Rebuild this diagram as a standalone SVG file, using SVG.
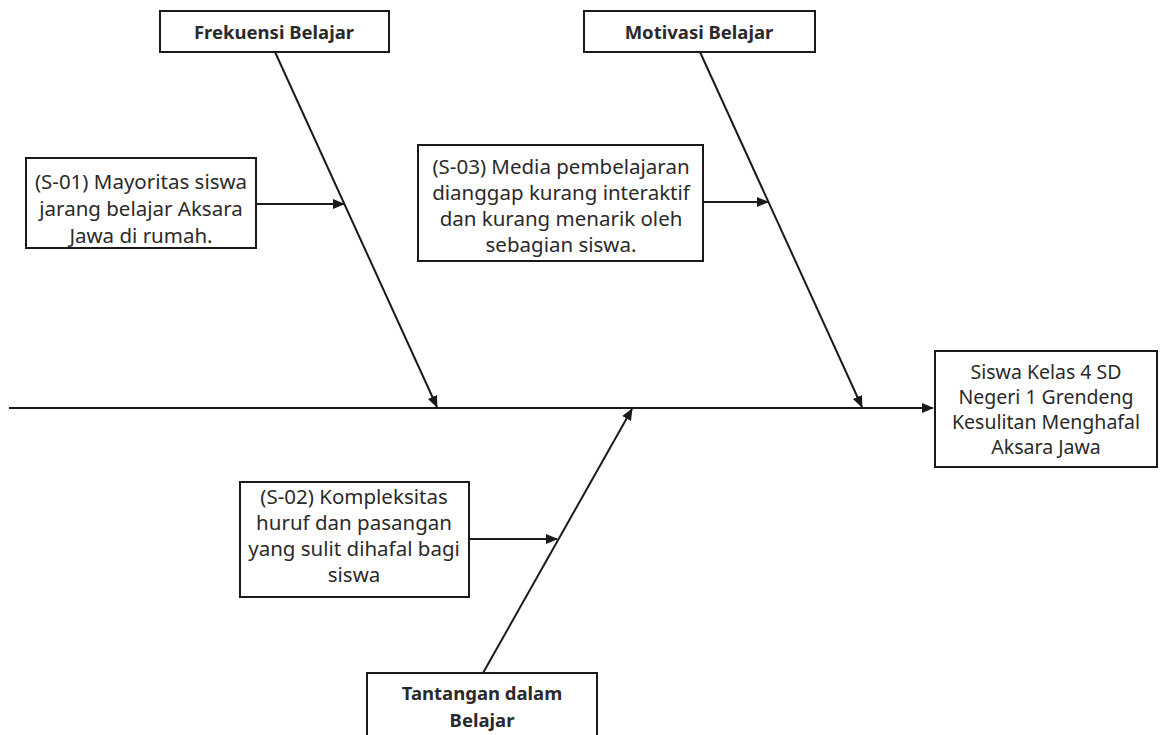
<svg xmlns="http://www.w3.org/2000/svg" width="1161" height="735" viewBox="0 0 1161 735">
<style>
.box{fill:#fff;stroke:#1a1a1a;stroke-width:2}
.t{font-family:"Noto Sans","Lato",sans-serif;font-size:20.5px;fill:#2a2a2a;text-anchor:middle}
.s{font-size:19.5px}
.b{font-weight:bold;font-size:18.5px}
.ln{stroke:#1a1a1a;stroke-width:2;fill:none}
</style>
<defs>
<marker id="ah" markerWidth="12" markerHeight="12" refX="11" refY="6" orient="auto" markerUnits="userSpaceOnUse">
<path d="M0,1 L12,6 L0,11 z" fill="#1a1a1a"/>
</marker>
</defs>
<rect width="1161" height="735" fill="#fff"/>
<g id="connectors">
<line class="ln" x1="9" y1="408" x2="933" y2="408" marker-end="url(#ah)"/>
<line class="ln" x1="275" y1="52" x2="437" y2="407" marker-end="url(#ah)"/>
<line class="ln" x1="700" y1="52" x2="862" y2="407" marker-end="url(#ah)"/>
<line class="ln" x1="483" y1="673" x2="632" y2="409" marker-end="url(#ah)"/>
<line class="ln" x1="256" y1="204" x2="344" y2="204" marker-end="url(#ah)"/>
<line class="ln" x1="703" y1="202" x2="768" y2="202" marker-end="url(#ah)"/>
<line class="ln" x1="469" y1="539" x2="557" y2="539" marker-end="url(#ah)"/>
</g>
<g id="frekuensi">
<rect class="box" x="160" y="11" width="229" height="41"/>
<text class="t b" x="274" y="39">Frekuensi Belajar</text>
</g>
<g id="motivasi">
<rect class="box" x="584" y="11" width="231" height="41"/>
<text class="t b" x="699" y="39">Motivasi Belajar</text>
</g>
<g id="s01">
<rect class="box" x="26" y="158" width="230" height="90"/>
<text class="t" x="141" y="189">(S-01) Mayoritas siswa</text>
<text class="t" x="141" y="216">jarang belajar Aksara</text>
<text class="t" x="141" y="243">Jawa di rumah.</text>
</g>
<g id="s03">
<rect class="box" x="418" y="145" width="285" height="116"/>
<text class="t" x="561" y="174">(S-03) Media pembelajaran</text>
<text class="t" x="561" y="200">dianggap kurang interaktif</text>
<text class="t" x="561" y="226">dan kurang menarik oleh</text>
<text class="t" x="561" y="252">sebagian siswa.</text>
</g>
<g id="hasil">
<rect class="box" x="935" y="351" width="222" height="116"/>
<text class="t s" x="1046" y="379">Siswa Kelas 4 SD</text>
<text class="t s" x="1046" y="404">Negeri 1 Grendeng</text>
<text class="t s" x="1046" y="429">Kesulitan Menghafal</text>
<text class="t s" x="1046" y="454">Aksara Jawa</text>
</g>
<g id="s02">
<rect class="box" x="240" y="482" width="229" height="115"/>
<text class="t" x="354" y="504">(S-02) Kompleksitas</text>
<text class="t" x="354" y="530">huruf dan pasangan</text>
<text class="t" x="354" y="556">yang sulit dihafal bagi</text>
<text class="t" x="354" y="582">siswa</text>
</g>
<g id="tantangan">
<rect class="box" x="367" y="673" width="230" height="80"/>
<text class="t b" x="482" y="700">Tantangan dalam</text>
<text class="t b" x="482" y="727">Belajar</text>
</g>
</svg>
